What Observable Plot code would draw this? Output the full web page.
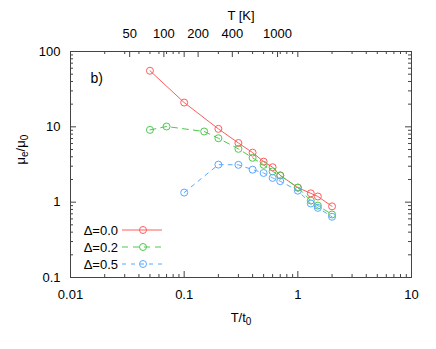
<!DOCTYPE html>
<html><head><meta charset="utf-8">
<script src="https://cdn.jsdelivr.net/npm/d3@7"></script>
<script src="https://cdn.jsdelivr.net/npm/@observablehq/plot@0.6"></script>
<style>body{margin:0;background:#fff}</style>
</head><body><div id="chart"></div>
<script>
// ---- data ----
const t0 = 1508; // K, conversion T/t0 -> T [K]
const xRed   = [0.05, 0.1, 0.2, 0.3, 0.4, 0.5, 0.6, 0.7, 1.0, 1.3, 1.5, 2.0];
const yRed   = [55.5, 21, 9.4, 6.1, 4.55, 3.45, 2.91, 2.27, 1.56, 1.31, 1.19, 0.88];
const xGreen = [0.05, 0.07, 0.15, 0.2, 0.3, 0.4, 0.5, 0.6, 0.7, 1.0, 1.3, 1.5, 2.0];
const yGreen = [9.1, 10.1, 8.67, 7.06, 5.1, 3.88, 3.13, 2.56, 2.26, 1.56, 1.05, 0.9, 0.686];
const xBlue  = [0.1, 0.2, 0.3, 0.4, 0.5, 0.6, 0.7, 1.0, 1.3, 1.5, 2.0];
const yBlue  = [1.34, 3.15, 3.13, 2.7, 2.44, 2.1, 1.9, 1.42, 0.96, 0.84, 0.64];
const seriesNames = ["Δ=0.0", "Δ=0.2", "Δ=0.5"];
const seriesColors = ["#ff5c5c", "#4ec84e", "#5aa8ff"];
const seriesDash = [null, "6,5", "4,5"];
const xMajor = [0.01, 0.1, 1, 10];
const yMajor = [0.1, 1, 10, 100];
const topTicksK = [50, 100, 200, 400, 1000];

// ---- build ----
const zip = (xs, ys) => xs.map((x, i) => ({x, y: ys[i]}));
const series = [zip(xRed, yRed), zip(xGreen, yGreen), zip(xBlue, yBlue)];
const minors = majors => majors.slice(0, -1).flatMap(m => d3.range(2, 10).map(k => m * k));
const xMinor = minors(xMajor), yMinor = minors(yMajor);
const topTicks = topTicksK.map(k => ({x: k / t0, label: String(k)}));

const W = 436, H = 349, mL = 70, mR = 25, mT = 51, mB = 72;
const pw = W - mL - mR, ph = H - mT - mB;
const tickMaj = 6, tickMin = 3;
const axisColor = "#444";

const marks = [
  Plot.frame({stroke: axisColor}),
  // bottom & mirrored top x ticks
  Plot.ruleX(xMajor, {x: d => d, insetTop: ph - tickMaj, stroke: axisColor}),
  Plot.ruleX(xMinor, {x: d => d, insetTop: ph - tickMin, stroke: axisColor}),
  Plot.ruleX(xMajor, {x: d => d, insetBottom: ph - tickMaj, stroke: axisColor}),
  Plot.ruleX(xMinor, {x: d => d, insetBottom: ph - tickMin, stroke: axisColor}),
  Plot.ruleX(topTicks, {x: "x", insetBottom: ph - tickMaj, stroke: axisColor}),
  // left & right y ticks
  Plot.ruleY(yMajor, {y: d => d, insetRight: pw - tickMaj, stroke: axisColor}),
  Plot.ruleY(yMinor, {y: d => d, insetRight: pw - tickMin, stroke: axisColor}),
  Plot.ruleY(yMajor, {y: d => d, insetLeft: pw - tickMaj, stroke: axisColor}),
  Plot.ruleY(yMinor, {y: d => d, insetLeft: pw - tickMin, stroke: axisColor}),
  Plot.axisX(xMajor, {anchor: "bottom", tickSize: 0, tickPadding: 12, tickFormat: d => String(d), label: null}),
  Plot.text(topTicks, {x: "x", text: "label", frameAnchor: "top", lineAnchor: "bottom", dy: -14, fontSize: 13}),
  Plot.axisY(yMajor, {anchor: "left", tickSize: 0, tickPadding: 10, tickFormat: d => String(d), label: null}),
];
series.forEach((s, i) => {
  marks.push(Plot.line(s, {x: "x", y: "y", stroke: seriesColors[i], strokeWidth: 1, strokeDasharray: seriesDash[i]}));
  marks.push(Plot.dot(s, {x: "x", y: "y", r: 3.5, stroke: seriesColors[i], fill: "none", strokeWidth: 1}));
});
marks.push(
  Plot.text(["T [K]"], {frameAnchor: "top", dy: -41, fontSize: 13}),
  Plot.text(["T/t0"], {frameAnchor: "bottom", dy: 44, fontSize: 13}),
  Plot.text(["μe/μ0"], {frameAnchor: "left", dx: -50, rotate: -90, fontSize: 13}),
  Plot.text(["b)"], {frameAnchor: "top-left", dx: 20, dy: 22, textAnchor: "start", fontSize: 14})
);

const chart = Plot.plot({
  width: W, height: H,
  marginLeft: mL, marginRight: mR, marginTop: mT, marginBottom: mB,
  x: {type: "log", domain: [0.01, 10]},
  y: {type: "log", domain: [0.1, 100]},
  style: {fontSize: "13px", fontFamily: "'Liberation Sans', Arial, sans-serif", background: "#fff", color: "#000"},
  marks
});

const svg = d3.select(chart);
// subscripts
function subscript(full, base, sub) {
  svg.selectAll("text").filter(function() { return this.textContent === full; }).each(function() {
    const t = d3.select(this);
    t.text(null);
    base.forEach((b, i) => {
      t.append("tspan").text(b);
      if (sub[i]) {
        t.append("tspan").attr("baseline-shift", "-30%").attr("font-size", "10px").text(sub[i]);
      }
    });
  });
}
subscript("T/t0", ["T/t"], ["0"]);
subscript("μe/μ0", ["μ", "/μ"], ["e", "0"]);

// legend
const lg = svg.append("g").attr("font-size", 13);
seriesNames.forEach((name, i) => {
  const yy = 230 + i * 17;
  lg.append("text").attr("x", 118).attr("y", yy).attr("dy", "0.35em").attr("text-anchor", "end").text(name);
  lg.append("line").attr("x1", 122).attr("x2", 162).attr("y1", yy).attr("y2", yy)
    .attr("stroke", seriesColors[i]).attr("stroke-dasharray", seriesDash[i]);
  lg.append("circle").attr("cx", 143).attr("cy", yy).attr("r", 3.5)
    .attr("fill", "none").attr("stroke", seriesColors[i]);
});

document.getElementById("chart").append(chart);
</script></body></html>
